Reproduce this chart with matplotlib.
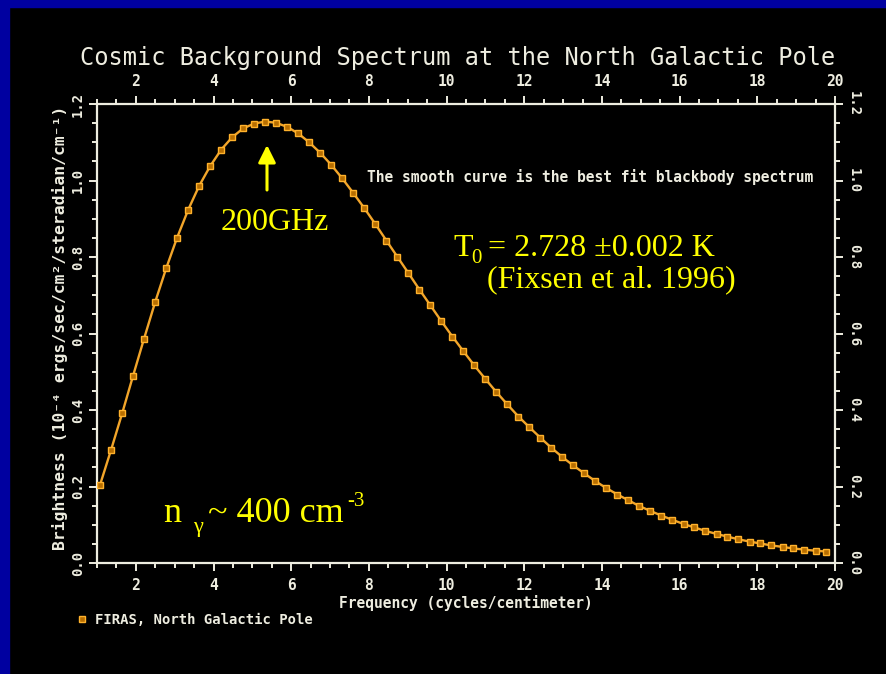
import matplotlib
matplotlib.use("Agg")
import matplotlib.pyplot as plt
from matplotlib.patches import Rectangle
from matplotlib.ticker import MultipleLocator, FormatStrFormatter

# FIRAS spectrum toward the North Galactic Pole
freq = [1.08, 1.36, 1.65, 1.93, 2.21, 2.50, 2.78, 3.06, 3.35, 3.63,
        3.91, 4.20, 4.48, 4.76, 5.05, 5.33, 5.61, 5.90, 6.18, 6.46,
        6.75, 7.03, 7.31, 7.60, 7.88, 8.16, 8.45, 8.73, 9.01, 9.30,
        9.58, 9.86, 10.15, 10.43, 10.71, 11.00, 11.28, 11.56, 11.85, 12.13,
        12.41, 12.70, 12.98, 13.26, 13.55, 13.83, 14.11, 14.40, 14.68, 14.96,
        15.25, 15.53, 15.81, 16.10, 16.38, 16.66, 16.95, 17.23, 17.51, 17.80,
        18.08, 18.36, 18.65, 18.93, 19.21, 19.50, 19.78]
brightness = [0.205, 0.295, 0.392, 0.490, 0.586, 0.683, 0.770, 0.850, 0.924, 0.986,
              1.037, 1.081, 1.113, 1.136, 1.149, 1.154, 1.151, 1.140, 1.123, 1.100,
              1.072, 1.041, 1.006, 0.967, 0.928, 0.887, 0.843, 0.801, 0.759, 0.715,
              0.674, 0.633, 0.592, 0.554, 0.517, 0.481, 0.447, 0.415, 0.383, 0.355,
              0.328, 0.301, 0.277, 0.255, 0.234, 0.214, 0.196, 0.179, 0.164, 0.149,
              0.136, 0.124, 0.113, 0.102, 0.093, 0.084, 0.076, 0.069, 0.062, 0.056,
              0.051, 0.046, 0.042, 0.038, 0.035, 0.032, 0.030]
x_ticks = [2, 4, 6, 8, 10, 12, 14, 16, 18, 20]
y_ticks = [0.0, 0.2, 0.4, 0.6, 0.8, 1.0, 1.2]

W, H = 887, 674
INK = "#eeede0"
ORANGE = "#f2a52a"
YELLOW = "#ffff00"
MONO = ["DejaVu Sans Mono", "DejaVu Sans"]
SERIF = "Liberation Serif"

fig = plt.figure(figsize=(W / 100, H / 100), dpi=100, facecolor="black")


def fx(x):
    return x / W


def fy(y):
    return 1 - y / H


# slide frame
fig.patches.append(Rectangle((0, fy(7)), 1, 7 / H, transform=fig.transFigure,
                             color="#0000a0", zorder=0))
fig.patches.append(Rectangle((0, 0), 9 / W, 1, transform=fig.transFigure,
                             color="#0000a0", zorder=0))

ax = fig.add_axes([fx(97), fy(563), (835 - 97) / W, (563 - 104) / H])
ax.set_facecolor("black")
ax.set_xlim(1, 20)
ax.set_ylim(0, 1.2)

for s in ax.spines.values():
    s.set_color(INK)
    s.set_linewidth(1.6)

ax.set_xticks(x_ticks)
ax.set_yticks(y_ticks)
ax.xaxis.set_minor_locator(MultipleLocator(0.5))
ax.yaxis.set_minor_locator(MultipleLocator(0.05))
ax.yaxis.set_major_formatter(FormatStrFormatter("%.1f"))
ax.tick_params(which="both", direction="out", color=INK, width=1.4,
               top=True, right=True, labeltop=True, labelright=True)
ax.tick_params(which="major", length=5.5)
ax.tick_params(which="minor", length=3.5)
ax.tick_params(axis="x", which="major", pad=5, labelcolor=INK, labelsize=10.5)
ax.tick_params(axis="y", which="major", pad=3, labelcolor=INK, labelsize=10)
for t in ax.xaxis.get_major_ticks():
    for lab in (t.label1, t.label2):
        lab.set_family(MONO)
        lab.set_weight("bold")
for t in ax.yaxis.get_major_ticks():
    for lab in (t.label1, t.label2):
        lab.set_family(MONO)
        lab.set_weight("bold")
        lab.set_va("center")
    t.label1.set_rotation(90)
    t.label2.set_rotation(-90)

# best-fit blackbody curve and the measured points
ax.plot(freq, brightness, "-", color=ORANGE, lw=1.7, zorder=2)
ax.plot(freq, brightness, "s", ms=5, mfc="#b86e00", mec="#ffb22c", mew=1.0,
        zorder=3, label="FIRAS, North Galactic Pole")

leg = ax.legend(loc="center left", bbox_to_anchor=(fx(77), fy(620)),
                bbox_transform=fig.transFigure, frameon=False,
                handlelength=0.7, handletextpad=0.6, borderpad=0,
                borderaxespad=0, prop={"family": MONO, "weight": "bold", "size": 10})
for txt in leg.get_texts():
    txt.set_color(INK)

fig.text(fx(458), fy(58), "Cosmic Background Spectrum at the North Galactic Pole",
         ha="center", va="center", color=INK, family=MONO, fontsize=17)
fig.text(fx(466), fy(603), "Frequency (cycles/centimeter)", ha="center", va="center",
         color=INK, family=MONO, weight="bold", fontsize=10.5)
fig.text(fx(60), fy(328), "Brightness (10⁻⁴ ergs/sec/cm²/steradian/cm⁻¹)",
         ha="center", va="center", rotation=90, color=INK, family=MONO,
         weight="bold", fontsize=11.8)
fig.text(fx(367), fy(177), "The smooth curve is the best fit blackbody spectrum",
         ha="left", va="center", color=INK, family=MONO, weight="bold", fontsize=10.5)

# annotations
ax.annotate("", xy=(fx(267), fy(145)), xytext=(fx(267), fy(190)),
            xycoords=fig.transFigure, textcoords=fig.transFigure,
            arrowprops=dict(arrowstyle="-|>,head_length=0.7,head_width=0.35",
                            mutation_scale=15, color=YELLOW, lw=2.2,
                            shrinkA=0, shrinkB=0))
fig.text(fx(275), fy(230), "200GHz", ha="center", va="baseline", color=YELLOW,
         family=SERIF, fontsize=23)

fig.text(fx(453), fy(256), "T", ha="left", va="baseline", color=YELLOW,
         family=SERIF, fontsize=23)
fig.text(fx(471), fy(263), "0", ha="left", va="baseline", color=YELLOW,
         family=SERIF, fontsize=15)
fig.text(fx(488), fy(256), "= 2.728 ±0.002 K", ha="left", va="baseline",
         color=YELLOW, family=SERIF, fontsize=23)
fig.text(fx(487), fy(287), "(Fixsen et al. 1996)", ha="left", va="baseline",
         color=YELLOW, family=SERIF, fontsize=23)

fig.text(fx(163), fy(522), "n", ha="left", va="baseline", color=YELLOW,
         family=SERIF, fontsize=26)
fig.text(fx(193), fy(532), "γ", ha="left", va="baseline", color=YELLOW,
         family=SERIF, fontsize=16)
fig.text(fx(208), fy(522), "~ 400 cm", ha="left", va="baseline", color=YELLOW,
         family=SERIF, fontsize=26)
fig.text(fx(347), fy(506), "-3", ha="left", va="baseline", color=YELLOW,
         family=SERIF, fontsize=15)

fig.savefig("out.png", dpi=100, facecolor=fig.get_facecolor())
